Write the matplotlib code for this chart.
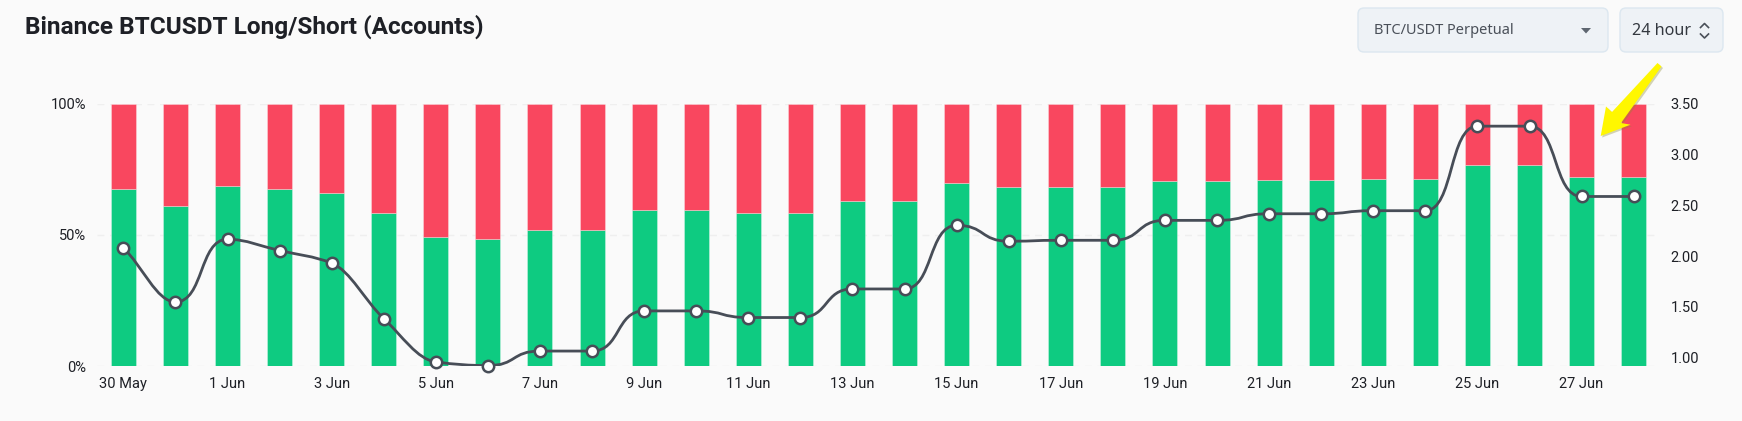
import numpy as np
import matplotlib
matplotlib.use("Agg")
import matplotlib.pyplot as plt
from matplotlib.patches import FancyBboxPatch, Polygon, PathPatch
from matplotlib.path import Path

# values
dates = ["30 May", "31 May", "1 Jun", "2 Jun", "3 Jun", "4 Jun", "5 Jun", "6 Jun", "7 Jun", "8 Jun",
         "9 Jun", "10 Jun", "11 Jun", "12 Jun", "13 Jun", "14 Jun", "15 Jun", "16 Jun", "17 Jun", "18 Jun",
         "19 Jun", "20 Jun", "21 Jun", "22 Jun", "23 Jun", "24 Jun", "25 Jun", "26 Jun", "27 Jun", "28 Jun"]
long_pct = [67.6, 61.0, 68.5, 67.5, 66.0, 58.4, 49.4, 48.5, 51.9, 51.9,
            59.6, 59.6, 58.4, 58.4, 62.9, 62.9, 69.8, 68.3, 68.4, 68.4,
            70.4, 70.4, 70.9, 70.9, 71.2, 71.2, 76.6, 76.6, 72.2, 72.2]
ratio = [2.08, 1.548, 2.165, 2.054, 1.93, 1.385, 0.958, 0.922, 1.065, 1.065,
         1.46, 1.46, 1.395, 1.395, 1.676, 1.676, 2.302, 2.146, 2.155, 2.155,
         2.351, 2.351, 2.416, 2.416, 2.446, 2.446, 3.278, 3.278, 2.586, 2.586]
pct_ticks = [0, 50, 100]
pct_labels = ["0%", "50%", "100%"]
ratio_ticks = [1.0, 1.5, 2.0, 2.5, 3.0, 3.5]

BG = "#FAFAFA"
GREEN = "#0ECB81"
RED = "#F9475F"
LINE = "#474D57"
TEXT = "#1E2026"
W, H = 1742, 421

plt.rcParams['font.family'] = ['Roboto', 'DejaVu Sans']

fig = plt.figure(figsize=(W / 100, H / 100), dpi=100, facecolor=BG)


def px_rect(x0, y0, x1, y1):
    return [x0 / W, 1 - y1 / H, (x1 - x0) / W, (y1 - y0) / H]


ax = fig.add_axes(px_rect(97.3, 103.6, 1659.7, 366.3))
ax.set_facecolor("none")
x = np.arange(len(dates))
long_pct = np.array(long_pct)
short_pct = 100 - long_pct
edge = (1, 1, 1, 0.35)
ax.bar(x, long_pct, width=0.48, color=GREEN, ec=edge, lw=0.6, zorder=2)
ax.bar(x, short_pct, width=0.48, bottom=long_pct, color=RED, ec=edge, lw=0.6, zorder=2)
ax.set_xlim(-0.5, 29.5)
ax.set_ylim(0, 100)
ax.set_yticks(pct_ticks)
ax.set_yticklabels(pct_labels, fontsize=10.5, color=TEXT)
ax.set_xticks(x[::2])
ax.set_xticklabels(dates[::2], fontsize=10.5, color=TEXT)
ax.tick_params(length=0)
ax.tick_params(axis='x', pad=7.5)
ax.tick_params(axis='y', pad=8)
ax.grid(axis='y', color="#EFEFEF", lw=1, ls=(0, (5, 4)), zorder=0)
ax.set_axisbelow(True)
for s in ax.spines.values():
    s.set_visible(False)

ax2 = ax.twinx()
ax2.set_ylim(0.915, 3.487)
ax2.set_yticks(ratio_ticks)
ax2.set_yticklabels([f"{t:.2f}" for t in ratio_ticks], fontsize=10.5, color=TEXT)
ax2.tick_params(length=0, pad=8)
for s in ax2.spines.values():
    s.set_visible(False)

# smoothed line, flat between equal neighbours
y = np.array(ratio)
d = np.diff(y)
m = np.zeros(len(y))
for i in range(1, len(y) - 1):
    if d[i - 1] * d[i] > 0:
        m[i] = 2 * d[i - 1] * d[i] / (d[i - 1] + d[i])
m[0] = d[0] * 0.9
m[-1] = d[-1] * 0.9
verts = [(x[0], y[0])]
codes = [Path.MOVETO]
for i in range(len(y) - 1):
    lo, hi = min(y[i], y[i + 1]), max(y[i], y[i + 1])
    # steps between two plateaus look sharper in the original
    h = 0.55 if m[i] == 0 and m[i + 1] == 0 else 0.36
    c1 = np.clip(y[i] + m[i] * h, lo, hi)
    c2 = np.clip(y[i + 1] - m[i + 1] * h, lo, hi)
    verts += [(x[i] + h, c1), (x[i + 1] - h, c2), (x[i + 1], y[i + 1])]
    codes += [Path.CURVE4] * 3
ax2.add_patch(PathPatch(Path(verts, codes), fc="none", ec=LINE, lw=2, zorder=4))
ax2.plot(x, y, ls="none", marker="o", ms=8.2, mfc="white", mec=LINE, mew=1.8, zorder=5, clip_on=False)

# overlay in pixel coordinates for title, controls and the arrow
ov = fig.add_axes([0, 0, 1, 1], zorder=10)
ov.set_xlim(0, W)
ov.set_ylim(H, 0)
ov.axis("off")
ov.text(25, 26.5, "Binance BTCUSDT Long/Short (Accounts)", fontsize=17.55, fontweight="bold", color=TEXT, va="center")

for x0, x1 in [(1358, 1608), (1620, 1723)]:
    ov.add_patch(FancyBboxPatch((x0 + 6, 8 + 6), x1 - x0 - 12, 44 - 12, boxstyle="round,pad=6,rounding_size=6",
                                fc="#EEF2F6", ec="#DCE7F0", lw=1))
ov.text(1374, 30, "BTC/USDT Perpetual", fontsize=10.5, family=['Noto Sans', 'DejaVu Sans'], color="#4A5059", va="center")
ov.text(1632, 31, "24 hour", fontsize=11.6, family=['Noto Sans', 'DejaVu Sans'], color="#33383F", va="center")
ov.add_patch(Polygon([(1581, 28), (1591, 28), (1586, 33.5)], fc="#5E6670", ec="none"))
ov.plot([1700.5, 1704.5, 1708.5], [27.5, 23.5, 27.5], color="#4A5059", lw=1.2)
ov.plot([1700.5, 1704.5, 1708.5], [34, 38, 34], color="#4A5059", lw=1.2)

arrow = [(1657.5, 63), (1661.5, 66.5), (1621, 123), (1630.5, 124.7), (1600.7, 136), (1606, 106.5), (1612, 112)]
ov.add_patch(Polygon([(a + 1.5, b + 1.5) for a, b in arrow], fc="#8A8A30", ec="none", alpha=0.35))
ov.add_patch(Polygon(arrow, fc="#FFF700", ec="none"))

fig.savefig("out.png", dpi=100, facecolor=BG)
